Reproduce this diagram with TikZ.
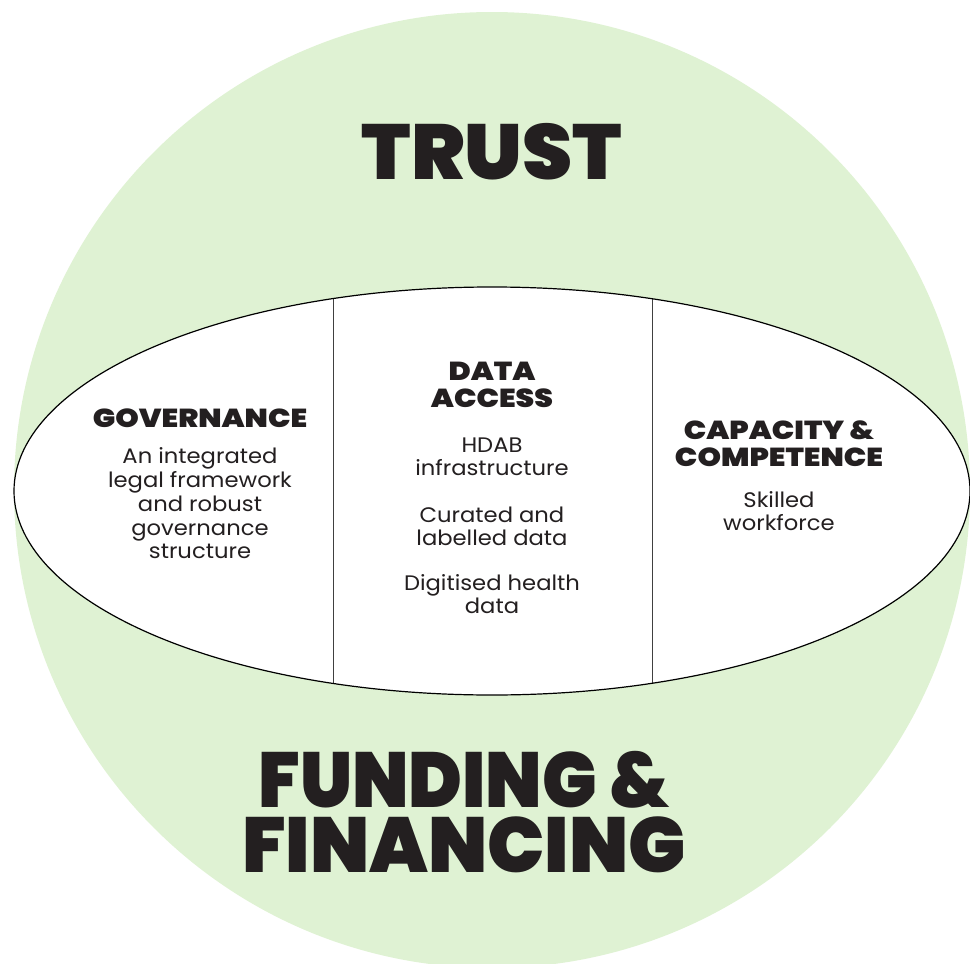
\documentclass[tikz,border=0pt]{standalone}
\usepackage{fontspec}
\setmainfont{Poppins}[FakeStretch=1.08]
\newfontfamily\titleT{Poppins Black}[FakeStretch=1.03]
\newfontfamily\titleA{Poppins Black}[FakeStretch=0.93]
\newfontfamily\titleB{Poppins Black}[FakeStretch=0.975]
\newfontfamily\heavywide{Poppins Black}[FakeStretch=1.15]
\definecolor{bggreen}{RGB}{223,242,211}
\definecolor{ink}{RGB}{35,31,32}
\tikzset{
  bigtitle/.style={anchor=base, inner sep=0pt, text=ink, align=center, font=\titleT\fontsize{78}{65}\selectfont},
  head/.style={anchor=base, inner sep=0pt, text=ink, text height=19pt, text depth=0pt, font=\heavywide\fontsize{26}{26}\selectfont},
  body/.style={anchor=base, inner sep=0pt, text=ink, font=\fontsize{21}{21}\selectfont},
  divider/.style={draw=black!75, line width=1pt}
}
\begin{document}
\begin{tikzpicture}[x=1pt,y=-1pt]
\useasboundingbox (0,0) rectangle (970,964);
\clip (0,0) rectangle (970,964);
\fill[bggreen] (492,490) circle[radius=478];
\begin{scope}
\clip (492,491) ellipse[x radius=478, y radius=204];
\fill[white] (492,491) ellipse[x radius=478, y radius=204];
\draw[divider] (333,250) coordinate (d1t) -- (333,720) coordinate (d1b);
\draw[divider] (652,250) coordinate (d2t) -- (652,720) coordinate (d2b);
\end{scope}
\draw[line width=1.2pt, black] (492,491) ellipse[x radius=478, y radius=204];

\node[bigtitle] (trust) at (492,179) {TRUST};
\node[bigtitle] (fund) at (464,872) {{\titleA FUNDING \&}\\{\titleB FINANCING}};

\node[head] (gov) at (200,427) {GOVERNANCE};
\node[body] (g1) at (200,463) {An integrated};
\node[body] (g2) at (200,487) {legal framework};
\node[body] (g3) at (200,511) {and robust};
\node[body] (g4) at (200,535) {governance};
\node[body] (g5) at (200,558) {structure};

\node[head] (da1) at (492,380) {DATA};
\node[head] (da2) at (492,407) {ACCESS};
\node[body] (a1) at (492,452) {HDAB};
\node[body] (a2) at (492,475) {infrastructure};
\node[body] (a3) at (492,522) {Curated and};
\node[body] (a4) at (492,545) {labelled data};
\node[body] (a5) at (492,590) {Digitised health};
\node[body] (a6) at (492,613) {data};

\node[head] (cc1) at (779,439) {CAPACITY \&};
\node[head] (cc2) at (779,466) {COMPETENCE};
\node[body] (c1) at (779,507) {Skilled};
\node[body] (c2) at (779,530) {workforce};
\end{tikzpicture}
\end{document}
